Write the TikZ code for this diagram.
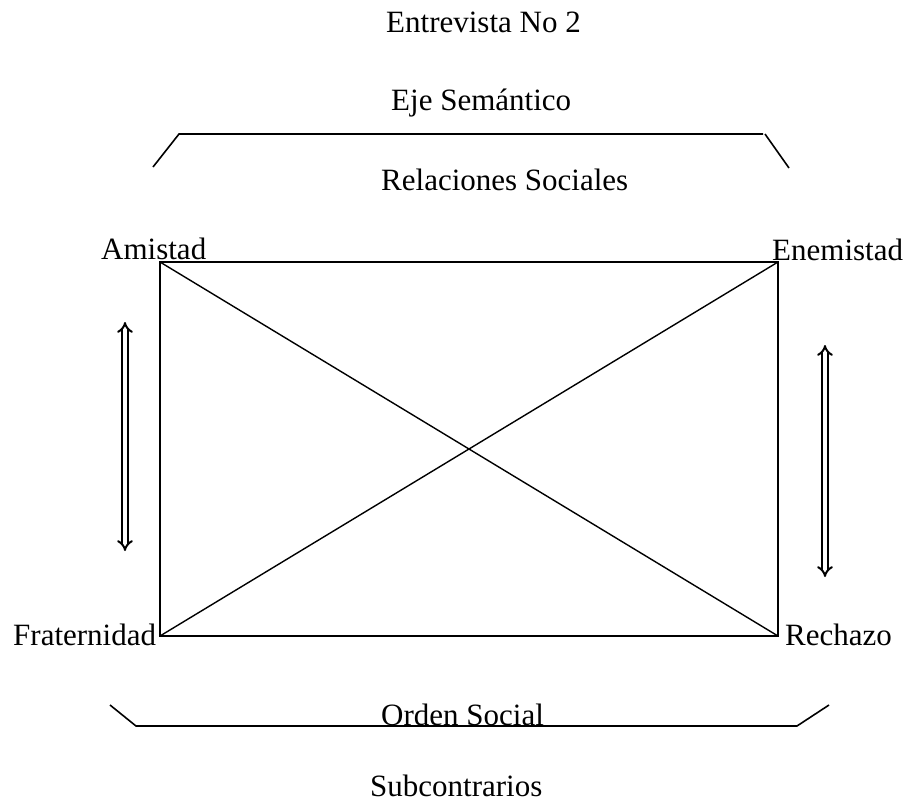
\documentclass[tikz,border=0pt]{standalone}
\usepackage{fontspec}
\setmainfont{Liberation Serif}
\usetikzlibrary{arrows.meta}
\begin{document}
\begin{tikzpicture}[x=1pt,y=-1pt,
  lbl/.style={anchor=base west,inner sep=0pt,font=\fontsize{31}{36}\selectfont},
  boxline/.style={line width=2.8pt},
  diag/.style={line width=1.4pt},
  brk/.style={line width=1.6pt},
  dbl/.style={double,double distance=3.2pt,line width=2pt,{Implies[length=7pt]}-{Implies[length=7pt]}}]
\useasboundingbox (0,0) rectangle (906,801);
\node[lbl] (t1) at (386,32) {Entrevista No 2};
\node[lbl] (t2) at (391,110) {Eje Semántico};
\node[lbl] (t3) at (381,190) {Relaciones Sociales};
\node[lbl] (am) at (101,259) {Amistad};
\node[lbl] (en) at (772,260) {Enemistad};
\node[lbl] (fr) at (13,645) {Fraternidad};
\node[lbl] (re) at (785,645) {Rechazo};
\node[lbl] (os) at (381,725) {Orden Social};
\node[lbl] (sc) at (370,796) {Subcontrarios};
\coordinate (A) at (160,262);
\coordinate (B) at (778,262);
\coordinate (C) at (778,636);
\coordinate (D) at (160,636);
\draw[boxline] (A) -- (B) -- (C) -- (D) -- cycle;
\draw[diag] (A) -- (C);
\draw[diag] (B) -- (D);
\coordinate (b1) at (153,167);
\coordinate (b2) at (179,134);
\coordinate (b3) at (763,134);
\coordinate (b4) at (789,168);
\draw[brk] (b1) -- (b2) -- (b3);
\draw[brk] (765,134) -- (b4);
\coordinate (c1) at (110,705);
\coordinate (c2) at (136,726);
\coordinate (c3) at (797,726);
\coordinate (c4) at (829,705);
\draw[brk] (c1) -- (c2) -- (c3) -- (c4);
\coordinate (l1) at (125,322);
\coordinate (l2) at (125,551);
\coordinate (r1) at (825,345);
\coordinate (r2) at (825,577);
\draw[dbl] (l1) -- (l2);
\draw[dbl] (r1) -- (r2);
\end{tikzpicture}
\end{document}
